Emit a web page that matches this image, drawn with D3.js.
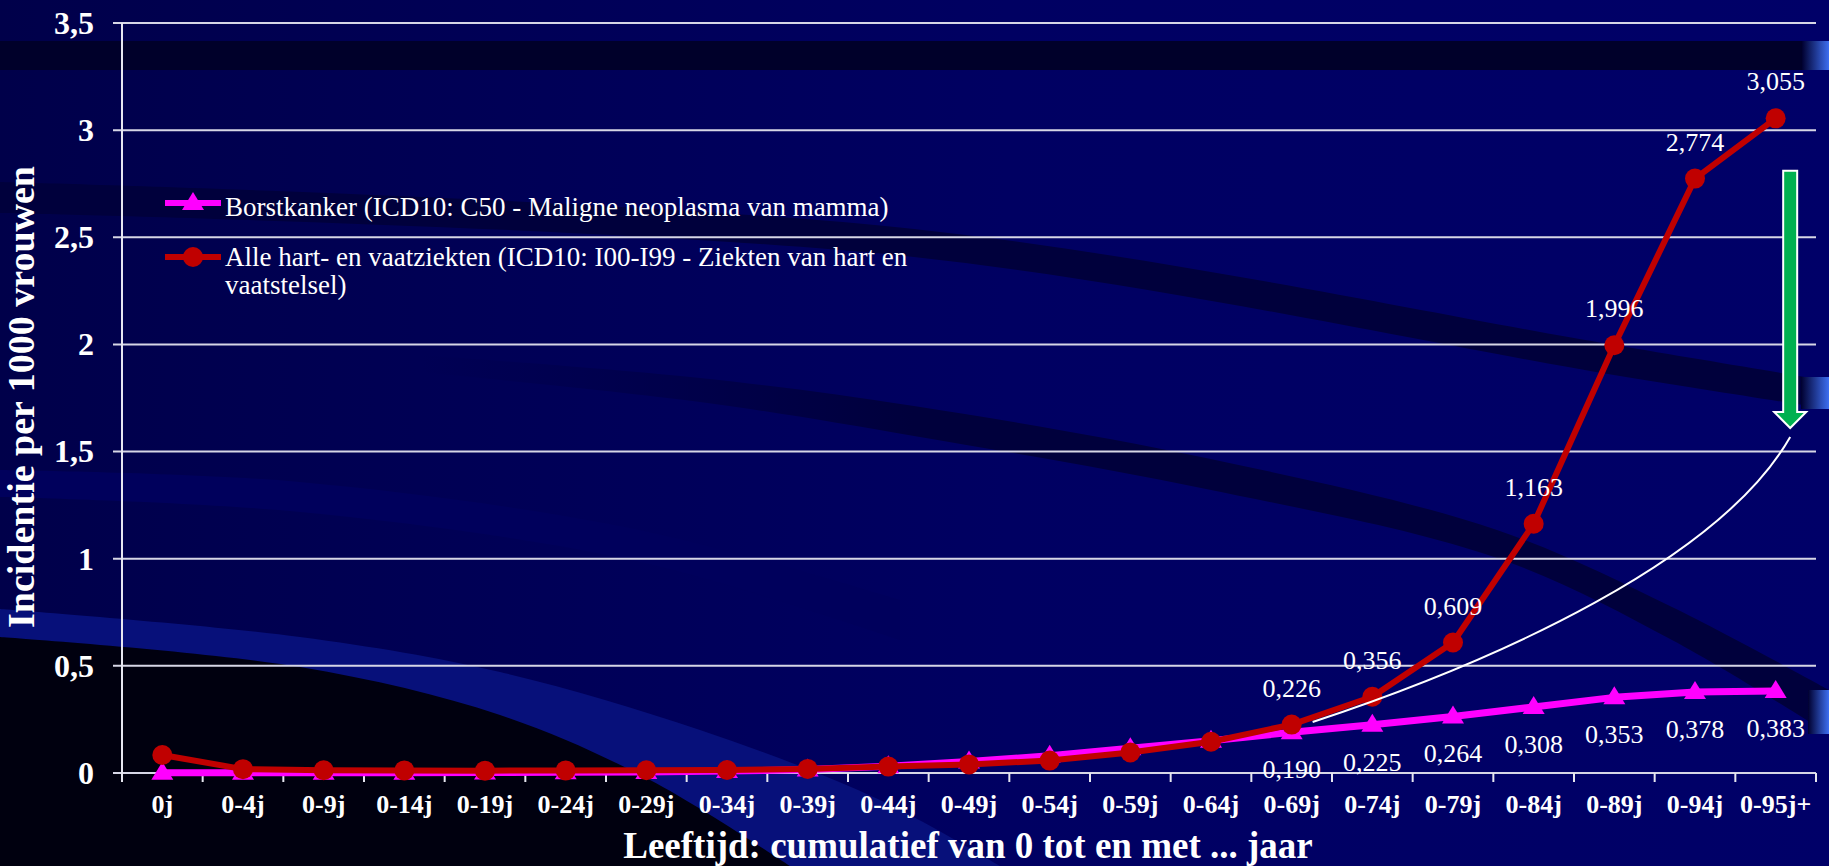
<!DOCTYPE html>
<html lang="nl">
<head>
<meta charset="UTF-8">
<script src="https://d3js.org/d3.v7.min.js"></script>
<title>Incidentie per 1000 vrouwen</title>
<style>
    body { margin: 0; background: #000066; overflow: hidden; }
    svg { display: block; }
    text { font-family: "Liberation Serif", "Times New Roman", serif; fill: #ffffff; }
</style>
</head>
<body>
<div id="chart"></div>
<script>
    // categories (x axis) and the two series
    var categories = ["0j", "0-4j", "0-9j", "0-14j", "0-19j", "0-24j", "0-29j", "0-34j", "0-39j", "0-44j",
        "0-49j", "0-54j", "0-59j", "0-64j", "0-69j", "0-74j", "0-79j", "0-84j", "0-89j", "0-94j", "0-95j+"];
    var hartValues = [0.084, 0.018, 0.013, 0.012, 0.011, 0.012, 0.013, 0.014, 0.019, 0.030,
        0.040, 0.058, 0.096, 0.146, 0.226, 0.356, 0.609, 1.163, 1.996, 2.774, 3.055];
    var borstValues = [0.001, 0.001, 0.001, 0.001, 0.002, 0.003, 0.005, 0.009, 0.016, 0.032,
        0.054, 0.080, 0.115, 0.150, 0.190, 0.225, 0.264, 0.308, 0.353, 0.378, 0.383];
    var labelFrom = "0-69j";   // values are printed from this category on
    var yTicks = [0, 0.5, 1, 1.5, 2, 2.5, 3, 3.5];
    var seriesNames = ["Borstkanker (ICD10: C50 - Maligne neoplasma van mamma)",
        "Alle hart- en vaatziekten (ICD10: I00-I99 - Ziekten van hart en", "vaatstelsel)"];
    var yTitle = "Incidentie per 1000 vrouwen";
    var xTitle = "Leeftijd: cumulatief van 0 tot en met ... jaar";

    var W = 1829, H = 866;
    var plotLeft = 122, plotRight = 1816, plotTop = 23, plotBottom = 773;
    var red = "#c00000", magenta = "#ff00ff";

    var nl = d3.formatLocale({decimal: ",", thousands: ".", grouping: [3], currency: ["€", ""]});
    var fmtTick = nl.format("~g");
    var fmtVal = nl.format(".3f");

    var svg = d3.select("#chart").append("svg")
        .attr("width", W)
        .attr("height", H);

    // ---- background swooshes (slide template) ----
    var defs = svg.append("defs");
    var glow = defs.append("linearGradient").attr("id", "glow");
    glow.append("stop").attr("offset", "0%").attr("stop-color", "#000030");
    glow.append("stop").attr("offset", "100%").attr("stop-color", "#3d6ef0");
    var base = defs.append("linearGradient").attr("id", "base");
    base.append("stop").attr("offset", "0%").attr("stop-color", "#00004a");
    base.append("stop").attr("offset", "55%").attr("stop-color", "#000062");
    base.append("stop").attr("offset", "100%").attr("stop-color", "#000068");
    var fadeIn = defs.append("linearGradient").attr("id", "fadeIn");
    fadeIn.append("stop").attr("offset", "0%").attr("stop-color", "#00003c").attr("stop-opacity", 0);
    fadeIn.append("stop").attr("offset", "35%").attr("stop-color", "#00003c").attr("stop-opacity", 1);
    fadeIn.append("stop").attr("offset", "100%").attr("stop-color", "#00003c").attr("stop-opacity", 1);

    svg.append("rect").attr("width", W).attr("height", H).attr("fill", "url(#base)");

    var edge = d3.line().curve(d3.curveCatmullRom);
    function band(topPts, botPts) {
        return edge(topPts) + "L" + edge(botPts.slice().reverse()).slice(1) + "Z";
    }
    svg.append("rect").attr("x", 0).attr("y", 41).attr("width", 1802).attr("height", 29).attr("fill", "#00002a");
    svg.append("rect").attr("x", 1802).attr("y", 41).attr("width", 27).attr("height", 29).attr("fill", "url(#glow)");

    svg.append("path").attr("fill", "#00003c")
        .attr("d", band([[0, 182], [914, 229], [1614, 345], [1829, 381]],
            [[0, 213], [914, 257], [1614, 375], [1829, 409]]));
    svg.append("rect").attr("x", 1801).attr("y", 377).attr("width", 28).attr("height", 32).attr("fill", "url(#glow)");

    // faint lighter arc on the left
    svg.append("path").attr("fill", "#00005c")
        .attr("d", band([[0, 470], [300, 482], [640, 530], [900, 600]],
            [[0, 497], [300, 512], [640, 562], [900, 640]]));

    svg.append("path").attr("fill", "url(#fadeIn)")
        .attr("d", band([[420, 355], [700, 378], [914, 406], [1206, 458], [1497, 530], [1672, 607], [1829, 690]],
            [[420, 372], [700, 402], [914, 436], [1206, 489], [1497, 558], [1672, 640], [1829, 734]]));
    svg.append("rect").attr("x", 1808).attr("y", 690).attr("width", 21).attr("height", 44).attr("fill", "url(#glow)");

    svg.append("path").attr("fill", "#07107a")
        .attr("d", edge([[0, 609], [300, 637], [500, 672], [700, 730], [880, 800], [1000, 866]]) + "L0,866Z");
    svg.append("path").attr("fill", "#00000f")
        .attr("d", edge([[0, 637], [300, 667], [500, 715], [650, 780], [790, 866]]) + "L0,866Z");

    // ---- scales ----
    var x = d3.scaleBand().domain(categories).range([plotLeft, plotRight]);
    var xi = d3.scaleLinear().domain([-0.5, categories.length - 0.5]).range([plotLeft, plotRight]);
    var y = d3.scaleLinear().domain([0, 3.5]).range([plotBottom, plotTop]);
    var cx = function (d, i) { return x(categories[i]) + x.bandwidth() / 2; };

    // gridlines
    svg.append("g").selectAll("line").data(yTicks).enter().append("line")
        .attr("x1", plotLeft - 9).attr("x2", plotRight)
        .attr("y1", function (d) { return y(d); }).attr("y2", function (d) { return y(d); })
        .attr("stroke", "#d6d6e6").attr("stroke-width", 2);

    // y axis
    svg.append("line").attr("x1", plotLeft).attr("x2", plotLeft).attr("y1", plotTop).attr("y2", plotBottom + 9)
        .attr("stroke", "#e6e6f0").attr("stroke-width", 2);
    svg.append("g").selectAll("text").data(yTicks).enter().append("text")
        .attr("x", plotLeft - 28).attr("y", function (d) { return y(d); })
        .attr("dy", "0.34em")
        .attr("text-anchor", "end")
        .attr("font-size", 32).attr("font-weight", "bold")
        .text(function (d) { return fmtTick(d); });

    // x axis tick marks at the band edges + labels
    svg.append("g").selectAll("line").data(d3.range(categories.length + 1)).enter().append("line")
        .attr("x1", function (i) { return xi(i - 0.5); }).attr("x2", function (i) { return xi(i - 0.5); })
        .attr("y1", plotBottom).attr("y2", plotBottom + 9)
        .attr("stroke", "#e6e6f0").attr("stroke-width", 2);
    svg.append("g").selectAll("text").data(categories).enter().append("text")
        .attr("x", function (d) { return x(d) + x.bandwidth() / 2; })
        .attr("y", 813)
        .attr("text-anchor", "middle")
        .attr("font-size", 26).attr("font-weight", "bold")
        .text(function (d) { return d; });

    // axis titles
    svg.append("text")
        .attr("transform", "translate(34,397) rotate(-90)")
        .attr("text-anchor", "middle")
        .attr("font-size", 38).attr("font-weight", "bold")
        .text(yTitle);
    svg.append("text")
        .attr("x", 968).attr("y", 858)
        .attr("text-anchor", "middle")
        .attr("font-size", 37).attr("font-weight", "bold")
        .text(xTitle);

    // ---- series ----
    var line = d3.line()
        .x(function (d, i) { return cx(d, i); })
        .y(function (d) { return y(d); });
    var tri = "M0,-11L11,7L-11,7Z";

    svg.append("path").datum(borstValues)
        .attr("d", line).attr("fill", "none")
        .attr("stroke", magenta).attr("stroke-width", 7).attr("stroke-linejoin", "round");
    svg.append("g").selectAll("path").data(borstValues).enter().append("path")
        .attr("d", tri)
        .attr("transform", function (d, i) { return "translate(" + cx(d, i) + "," + y(d) + ")"; })
        .attr("fill", magenta);

    svg.append("path").datum(hartValues)
        .attr("d", line).attr("fill", "none")
        .attr("stroke", red).attr("stroke-width", 6).attr("stroke-linejoin", "round");
    svg.append("g").selectAll("circle").data(hartValues).enter().append("circle")
        .attr("cx", cx).attr("cy", function (d) { return y(d); })
        .attr("r", 10).attr("fill", red);

    // value labels
    var first = categories.indexOf(labelFrom);
    var hartIdx = d3.range(first, categories.length);
    svg.append("g").selectAll("text").data(hartIdx).enter().append("text")
        .attr("x", function (i) { return cx(hartValues[i], i); })
        .attr("y", function (i) { return y(hartValues[i]) - 28; })
        .attr("text-anchor", "middle").attr("font-size", 26)
        .text(function (i) { return fmtVal(hartValues[i]); });
    svg.append("g").selectAll("text").data(hartIdx).enter().append("text")
        .attr("x", function (i) { return cx(borstValues[i], i); })
        .attr("y", function (i) { return y(borstValues[i]) + 46; })
        .attr("text-anchor", "middle").attr("font-size", 26)
        .text(function (i) { return fmtVal(borstValues[i]); });

    // ---- annotation: white curve and green arrow ----
    var curve = d3.path();
    curve.moveTo(xi(14.26), y(0.238));
    curve.bezierCurveTo(xi(16.58), y(0.527), xi(19.31), y(0.994), xi(20.18), y(1.568));
    svg.append("path").attr("d", curve.toString())
        .attr("fill", "none").attr("stroke", "#ffffff").attr("stroke-width", 2);

    var ax = xi(20.18), aTop = y(2.81), aBase = y(1.685), aTip = y(1.61);
    svg.append("path")
        .attr("d", "M" + (ax - 7) + "," + aTop + "L" + (ax + 7) + "," + aTop + "L" + (ax + 7) + "," + aBase +
            "L" + (ax + 16) + "," + aBase + "L" + ax + "," + aTip + "L" + (ax - 16) + "," + aBase +
            "L" + (ax - 7) + "," + aBase + "Z")
        .attr("fill", "#00b050").attr("stroke", "#ffffff").attr("stroke-width", 2);

    // ---- legend ----
    var leg = svg.append("g");
    leg.append("line").attr("x1", 165).attr("x2", 221).attr("y1", 203).attr("y2", 203)
        .attr("stroke", magenta).attr("stroke-width", 6);
    leg.append("path").attr("d", tri).attr("transform", "translate(193,203)").attr("fill", magenta);
    leg.append("text").attr("x", 225).attr("y", 216).attr("font-size", 27).text(seriesNames[0]);
    leg.append("line").attr("x1", 165).attr("x2", 221).attr("y1", 257).attr("y2", 257)
        .attr("stroke", red).attr("stroke-width", 6);
    leg.append("circle").attr("cx", 193).attr("cy", 257).attr("r", 10).attr("fill", red);
    leg.append("text").attr("x", 225).attr("y", 266).attr("font-size", 27).text(seriesNames[1]);
    leg.append("text").attr("x", 225).attr("y", 294).attr("font-size", 27).text(seriesNames[2]);
</script>
</body>
</html>
